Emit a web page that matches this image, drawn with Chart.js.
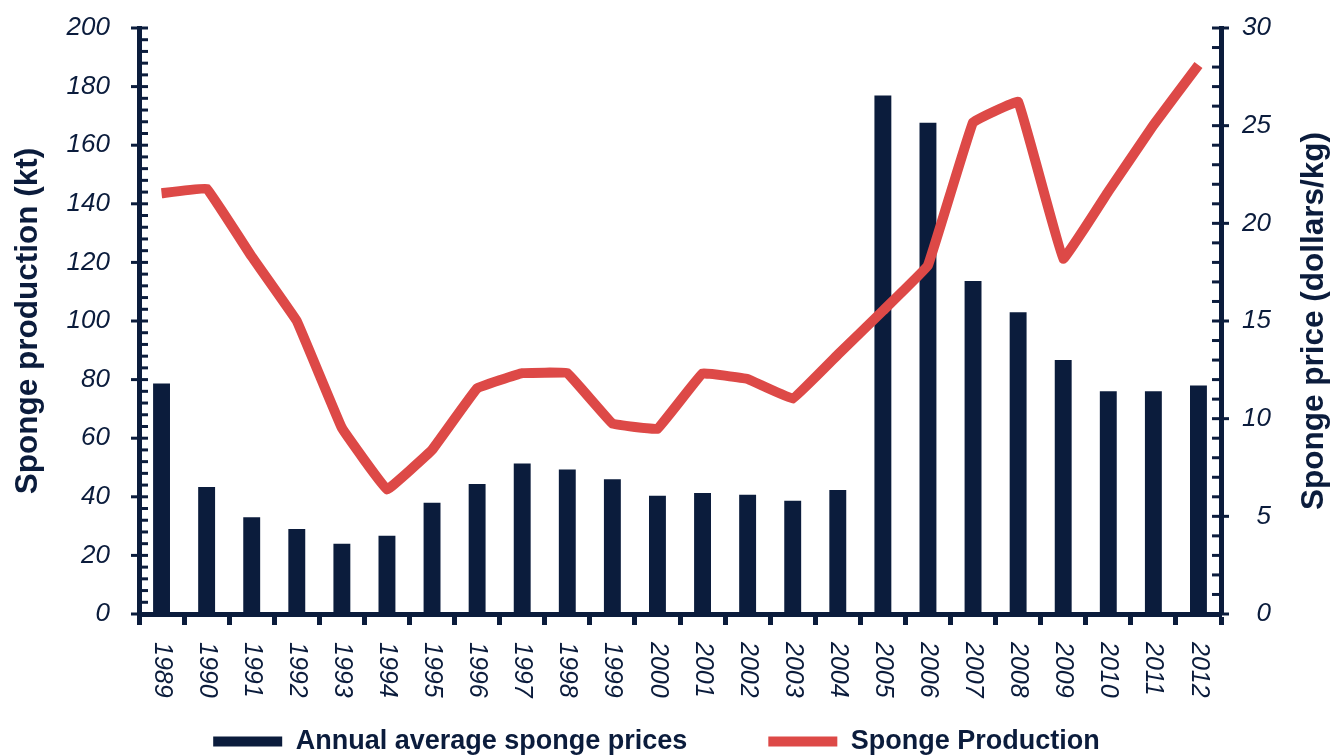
<!DOCTYPE html>
<html>
<head>
<meta charset="utf-8">
<script src="https://cdn.jsdelivr.net/npm/chart.js@4.4.1/dist/chart.umd.min.js"></script>
<style>
  html, body { margin: 0; padding: 0; background: #fff; }
  #wrap { width: 1332px; height: 756px; position: relative; }
</style>
</head>
<body>
<div id="wrap"><canvas id="chart"></canvas></div>
<script>
// data
const years = ["1989", "1990", "1991", "1992", "1993", "1994", "1995", "1996", "1997", "1998", "1999", "2000",
               "2001", "2002", "2003", "2004", "2005", "2006", "2007", "2008", "2009", "2010", "2011", "2012"];

// bars, dollars/kg (right axis)
const spongePrices = [11.8, 6.5, 4.95, 4.35, 3.6, 4.0, 5.7, 6.65, 7.7, 7.4, 6.9, 6.05,
                      6.2, 6.1, 5.8, 6.35, 26.55, 25.15, 17.05, 15.45, 13.0, 11.4, 11.4, 11.7];

// line, kt (left axis)
const spongeProduction = [143.6, 145.2, 122, 100, 63.5, 42.5, 56, 77, 82.2, 82.2, 65, 63.2,
                          82.1, 80.2, 73.5, 88.5, 103.5, 119, 167.8, 174.8, 121.3, 144.2, 166.8, 187.4];

const productionAxis = { min: 0, max: 200, step: 20, minor: 4 };
const priceAxis = { min: 0, max: 30, step: 5, minor: 1 };

const leftTitle = "Sponge production (kt)";
const rightTitle = "Sponge price (dollars/kg)";
const barLabel = "Annual average sponge prices";
const lineLabel = "Sponge Production";

const NAVY = "#0b1c3c";
const RED = "#dd4947";
const FONT = "'Liberation Sans', Arial, sans-serif";

function drawRotated(ctx, text, x, y) {
  ctx.save();
  ctx.translate(x, y);
  ctx.rotate(-Math.PI / 2);
  ctx.fillText(text, 0, 0);
  ctx.restore();
}

// minor/major ticks on both value axes, rotated year labels, axis titles
const axisDecor = {
  id: "axisDecor",
  afterDraw(chart) {
    const { ctx, chartArea, scales } = chart;
    const yL = scales.y, yR = scales.y1, xs = scales.x;
    ctx.save();
    ctx.strokeStyle = NAVY;
    ctx.lineWidth = 3;
    ctx.lineCap = "butt";

    for (let v = productionAxis.min; v <= productionAxis.max; v += productionAxis.minor) {
      const py = yL.getPixelForValue(v);
      const major = v % productionAxis.step === 0;
      ctx.beginPath();
      ctx.moveTo(chartArea.left - (major ? 8 : 0), py);
      ctx.lineTo(chartArea.left + 9, py);
      ctx.stroke();
    }
    for (let v = priceAxis.min; v <= priceAxis.max; v += priceAxis.minor) {
      const py = yR.getPixelForValue(v);
      const major = v % priceAxis.step === 0;
      ctx.beginPath();
      ctx.moveTo(chartArea.right - 9, py);
      ctx.lineTo(chartArea.right + (major ? 8 : 0), py);
      ctx.stroke();
    }

    // year labels, turned clockwise
    ctx.fillStyle = NAVY;
    ctx.font = `italic 25px ${FONT}`;
    ctx.textAlign = "left";
    ctx.textBaseline = "middle";
    years.forEach((label, i) => {
      const px = xs.getPixelForTick(i);
      ctx.save();
      ctx.translate(px, xs.top + 28);
      ctx.rotate(Math.PI / 2);
      ctx.fillText(label, 0, 0);
      ctx.restore();
    });

    // axis titles, both read bottom to top
    ctx.font = `bold 31.5px ${FONT}`;
    ctx.textAlign = "center";
    const midY = (chartArea.top + chartArea.bottom) / 2;
    drawRotated(ctx, leftTitle, chartArea.left - 111, midY);
    drawRotated(ctx, rightTitle, chartArea.right + 93, midY);
    ctx.restore();
  }
};

function fixWidth(w) {
  return (scale) => {
    scale.width = w;
    scale.paddingTop = 0; scale.paddingBottom = 0;
  };
}

new Chart(document.getElementById("chart").getContext("2d"), {
  type: "bar",
  data: {
    labels: years,
    datasets: [
      {
        type: "bar",
        label: barLabel,
        data: spongePrices,
        yAxisID: "y1",
        backgroundColor: NAVY,
        barPercentage: 0.375,
        categoryPercentage: 1,
        order: 1
      },
      {
        type: "line",
        label: lineLabel,
        data: spongeProduction,
        yAxisID: "y",
        borderColor: RED,
        backgroundColor: RED,
        borderWidth: 10,
        tension: 0.05,
        borderJoinStyle: "miter",
        borderCapStyle: "butt",
        pointRadius: 0,
        fill: false,
        order: 0
      }
    ]
  },
  options: {
    responsive: true,
    maintainAspectRatio: false,
    animation: false,
    layout: { padding: { left: 42, right: 61, top: 28, bottom: -9 } },
    plugins: {
      tooltip: { enabled: false },
      legend: {
        position: "bottom",
        labels: {
          color: NAVY,
          font: { family: FONT, size: 27, weight: "bold" },
          boxWidth: 69,
          boxHeight: 10,
          padding: 81,
          sort: (a, b) => a.datasetIndex - b.datasetIndex,
          generateLabels(chart) {
            return Chart.defaults.plugins.legend.labels.generateLabels(chart)
              .map(item => ({ ...item, lineWidth: 0, strokeStyle: "rgba(0,0,0,0)" }));
          }
        }
      }
    },
    scales: {
      x: {
        offset: true,
        border: { display: true, color: NAVY, width: 5 },
        grid: { display: true, offset: true, drawOnChartArea: false, drawTicks: true,
                tickLength: 11, tickWidth: 5, tickColor: NAVY, color: NAVY },
        ticks: { display: false },
        afterFit: (scale) => {
          scale.height = 33;
          scale.paddingLeft = 0; scale.paddingRight = 0;
        }
      },
      y: {
        position: "left",
        min: productionAxis.min,
        max: productionAxis.max,
        border: { display: true, color: NAVY, width: 5 },
        grid: { display: false, drawTicks: false },
        ticks: {
          stepSize: productionAxis.step,
          padding: 29,
          color: NAVY,
          font: { family: FONT, size: 26, style: "italic" }
        },
        afterFit: fixWidth(97)
      },
      y1: {
        position: "right",
        min: priceAxis.min,
        max: priceAxis.max,
        border: { display: true, color: NAVY, width: 5 },
        grid: { display: false, drawTicks: false },
        ticks: {
          stepSize: priceAxis.step,
          crossAlign: "far",
          color: NAVY,
          font: { family: FONT, size: 26, style: "italic" }
        },
        afterFit: fixWidth(50)
      }
    }
  },
  plugins: [axisDecor]
});
</script>
</body>
</html>
